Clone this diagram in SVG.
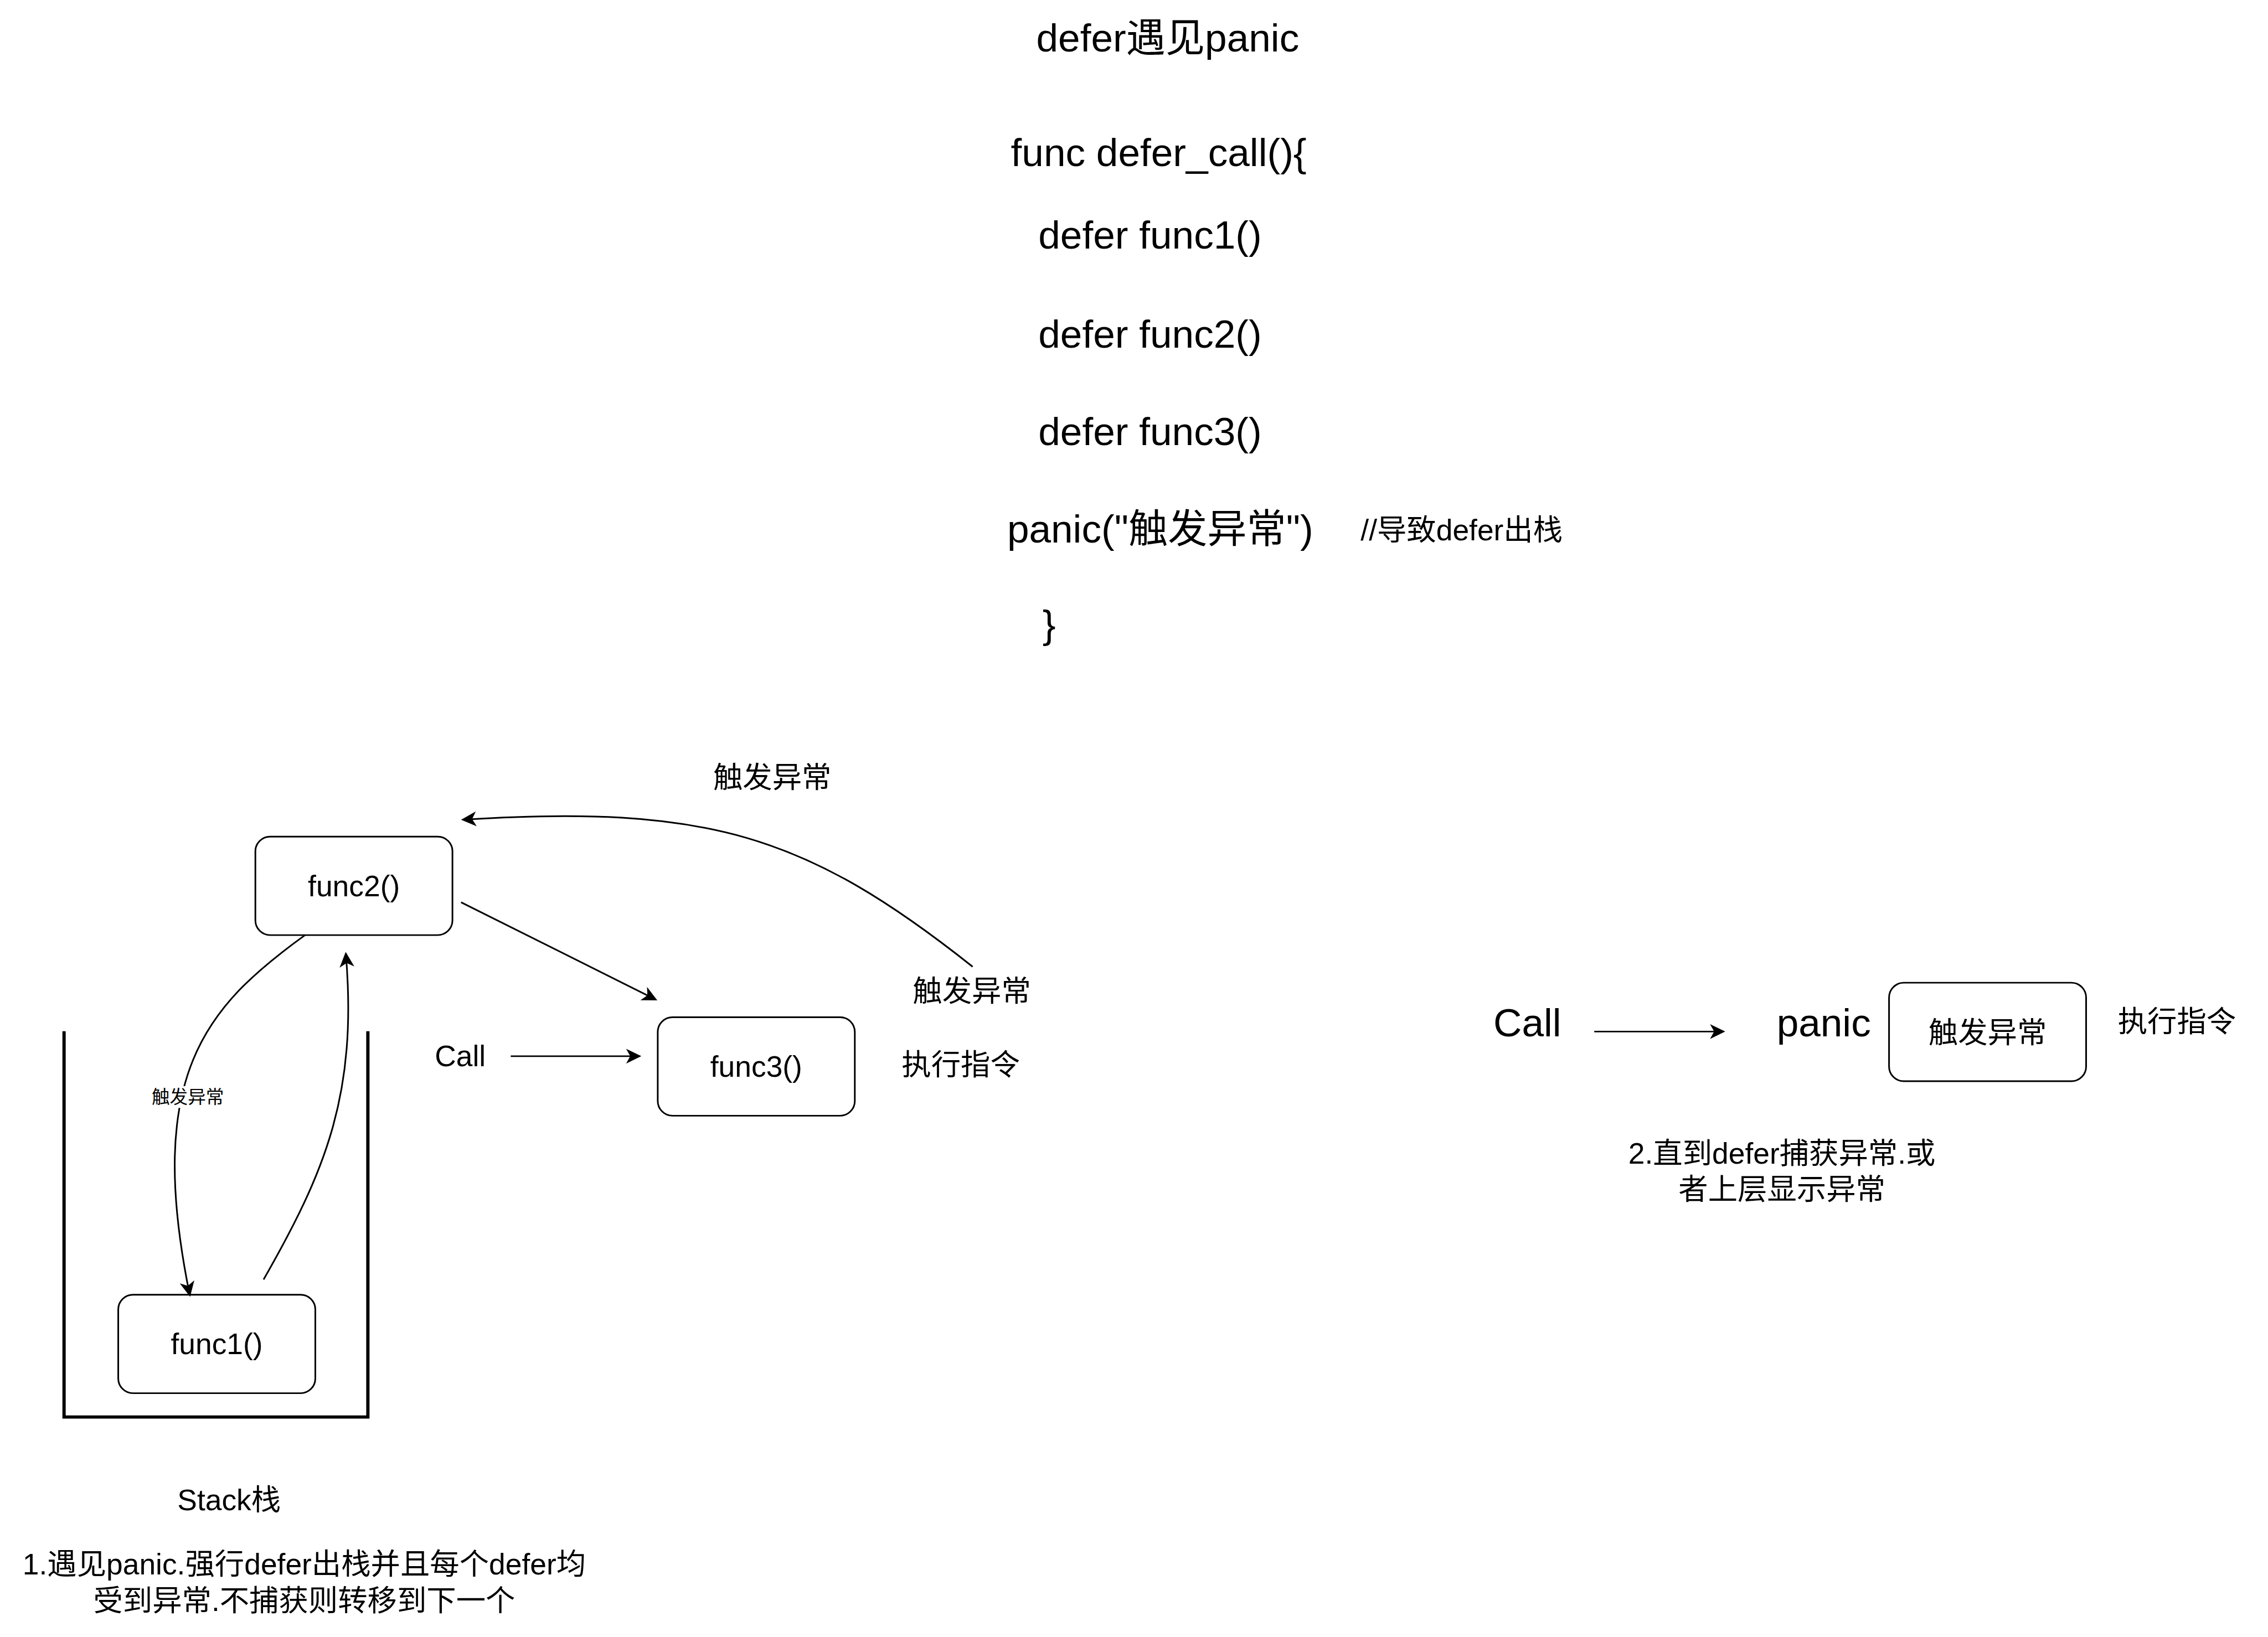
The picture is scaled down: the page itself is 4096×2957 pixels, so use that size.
<svg xmlns="http://www.w3.org/2000/svg" width="4096" height="2957" viewBox="0 0 4096 2957">
<defs>
<style>
.t{font-family:"Liberation Sans","Noto Sans CJK SC",sans-serif;fill:#000}
.c{text-anchor:middle}
.f96{font-size:96px}
.f72{font-size:72px}
.f44{font-size:44px}
.box{fill:#fff;stroke:#000;stroke-width:4}
.edge{fill:none;stroke:#000;stroke-width:4;marker-end:url(#arr)}
</style>
<marker id="arr" markerUnits="userSpaceOnUse" viewBox="-40 -20 50 40" markerWidth="50" markerHeight="40" refX="0" refY="0" orient="auto" overflow="visible"><path d="M4,0 L-33,-18 L-23,0 L-33,18 Z" fill="#000"/></marker>
</defs>
<rect width="4096" height="2957" fill="#fff"/>
<g transform="scale(0.741492)">
  <g id="code">
    <text class="t f96" x="2524" y="126">defer遇见panic</text>
    <text class="t f96" x="2462" y="405">func defer_call(){</text>
    <text class="t f96" x="2529" y="605">defer func1()</text>
    <text class="t f96" x="2529" y="847">defer func2()</text>
    <text class="t f96" x="2529" y="1084">defer func3()</text>
    <text class="t f96" x="2453" y="1321">panic("触发异常")</text>
    <text class="t f72" x="3314" y="1316">//导致defer出栈</text>
    <text class="t f96" x="2539" y="1553">}</text>
  </g>
  <g id="stack">
    <path d="M156,2512 V3452 H896 V2512" fill="none" stroke="#000" stroke-width="8"/>
    <text class="t f72 c" x="558" y="3679">Stack栈</text>
  </g>
  <g id="caption1">
    <text class="t f72 c" x="741" y="3835">1.遇见panic.强行defer出栈并且每个defer均</text>
    <text class="t f72 c" x="741" y="3924">受到异常.不捕获则转移到下一个</text>
  </g>
  <g id="func2">
    <rect class="box" x="622" y="2038" width="480" height="240" rx="36" ry="36"/>
    <text class="t f72 c" x="862" y="2183">func2()</text>
  </g>
  <g id="func1">
    <rect class="box" x="288" y="3154" width="480" height="240" rx="36" ry="36"/>
    <text class="t f72 c" x="528" y="3299">func1()</text>
  </g>
  <g id="func3">
    <rect class="box" x="1602" y="2478" width="480" height="240" rx="36" ry="36"/>
    <text class="t f72 c" x="1842" y="2623">func3()</text>
  </g>
  <g id="call-left"><text class="t f72 c" x="1121" y="2597">Call</text></g>
  <g id="exec-left"><text class="t f72 c" x="2340" y="2619">执行指令</text></g>
  <g id="trigger-top"><text class="t f72 c" x="1881" y="1919">触发异常</text></g>
  <g id="trigger-right"><text class="t f72 c" x="2367" y="2440">触发异常</text></g>
  <g id="call-right"><text class="t f96 c" x="3720" y="2524">Call</text></g>
  <g id="panic-label"><text class="t f96 c" x="4442" y="2524">panic</text></g>
  <g id="panic-box">
    <rect class="box" x="4601" y="2394" width="480" height="240" rx="36" ry="36"/>
    <text class="t f72 c" x="4841" y="2541">触发异常</text>
  </g>
  <g id="exec-right"><text class="t f72 c" x="5302" y="2514">执行指令</text></g>
  <g id="caption2">
    <text class="t f72 c" x="4340" y="2835">2.直到defer捕获异常.或</text>
    <text class="t f72 c" x="4340" y="2923">者上层显示异常</text>
  </g>
  <g id="connectors">
    <path class="edge" d="M1244,2573 H1558"/>
    <path class="edge" d="M1123,2198 L1597.4,2435.2"/>
    <path class="edge" d="M3883,2513 H4198"/>
    <path class="edge" d="M2369,2355 C1963,2033 1722,1960 1127,1996.8"/>
    <path class="edge" d="M743,2278 C499.7,2453.5 353,2620 462.2,3155.1"/>
    <path class="edge" d="M642,3117 C790.8,2856.6 871.4,2667.6 842.3,2323"/>
    <rect x="370" y="2646" width="175" height="53" fill="#fff"/>
    <text class="t f44 c" x="457.5" y="2688">触发异常</text>
  </g>
</g>
</svg>
